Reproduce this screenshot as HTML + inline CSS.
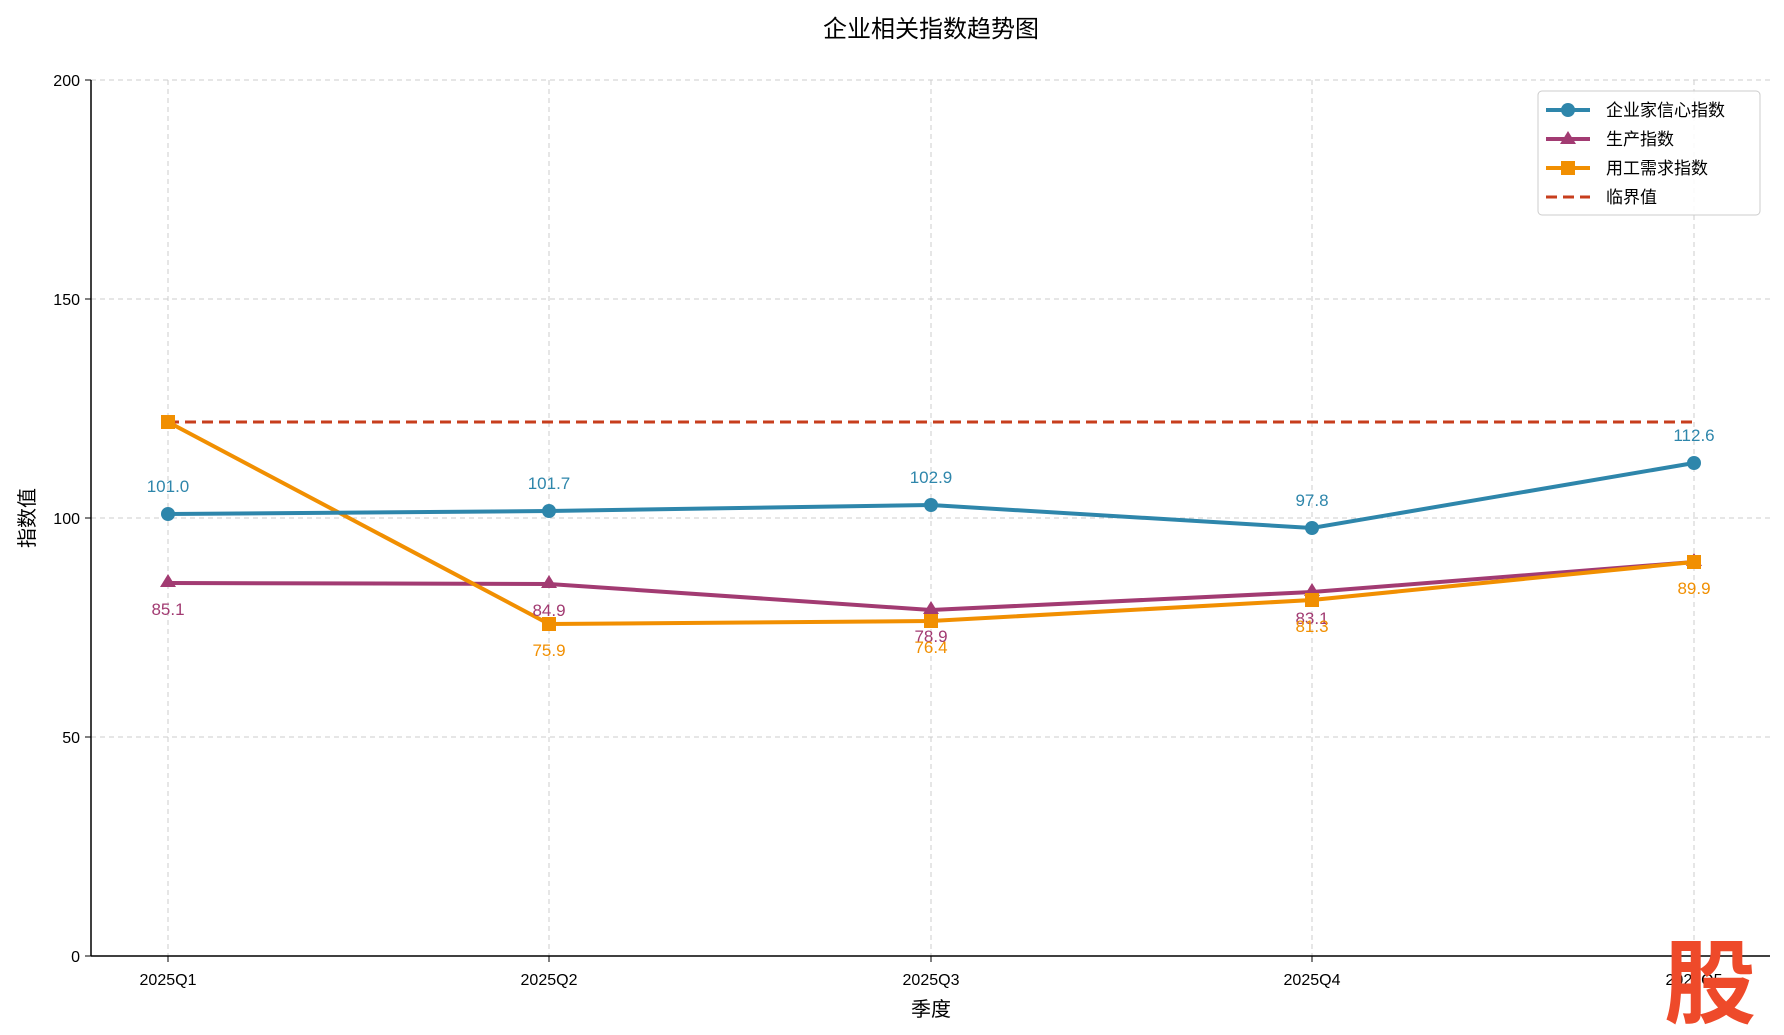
<!DOCTYPE html>
<html><head><meta charset="utf-8"><style>
html,body{margin:0;padding:0;background:#fff}
svg{display:block}
text{font-family:"Liberation Sans","Noto Sans CJK SC",sans-serif}
</style></head><body>
<svg width="1784" height="1035" viewBox="0 0 1784 1035" xmlns="http://www.w3.org/2000/svg">
<rect width="1784" height="1035" fill="#fff"/>
<text x="931" y="37" font-size="24" text-anchor="middle" fill="#000">企业相关指数趋势图</text>
<g stroke="#ccc" stroke-width="1" stroke-dasharray="5,4">
<line x1="91" x2="1770" y1="80" y2="80"/><line x1="91" x2="1770" y1="299" y2="299"/>
<line x1="91" x2="1770" y1="518" y2="518"/><line x1="91" x2="1770" y1="737" y2="737"/>
<line x1="168" x2="168" y1="80" y2="956"/><line x1="549" x2="549" y1="80" y2="956"/>
<line x1="931" x2="931" y1="80" y2="956"/><line x1="1312" x2="1312" y1="80" y2="956"/>
<line x1="1694" x2="1694" y1="80" y2="956"/>
</g>
<g stroke="#000" stroke-width="1.5"><line x1="91" y1="80" x2="91" y2="956"/><line x1="91" y1="956" x2="1770" y2="956"/></g>
<g stroke="#000" stroke-width="1">
<line x1="85" x2="91" y1="80" y2="80"/><line x1="85" x2="91" y1="299" y2="299"/><line x1="85" x2="91" y1="518" y2="518"/><line x1="85" x2="91" y1="737" y2="737"/><line x1="85" x2="91" y1="956" y2="956"/>
<line x1="168" x2="168" y1="956" y2="962"/><line x1="549" x2="549" y1="956" y2="962"/><line x1="931" x2="931" y1="956" y2="962"/><line x1="1312" x2="1312" y1="956" y2="962"/><line x1="1694" x2="1694" y1="956" y2="962"/>
</g>
<g font-size="16" fill="#000" text-anchor="end">
<text x="80" y="86">200</text><text x="80" y="305">150</text><text x="80" y="524">100</text><text x="80" y="743">50</text><text x="80" y="962">0</text>
</g>
<g font-size="16" fill="#000" text-anchor="middle">
<text x="168" y="985">2025Q1</text><text x="549" y="985">2025Q2</text><text x="931" y="985">2025Q3</text><text x="1312" y="985">2025Q4</text><text x="1694" y="985">2025Q5</text>
</g>
<text x="931" y="1016" font-size="20" text-anchor="middle">季度</text>
<text transform="translate(34,518) rotate(-90)" font-size="20" text-anchor="middle">指数值</text>
<line x1="168" y1="422" x2="1694" y2="422" stroke="#c73e1d" stroke-width="3" stroke-dasharray="11,6"/>
<polyline fill="none" stroke="#a23b72" stroke-width="4" points="168,583 549,584 931,610 1312,592 1694,562"/>
<g fill="#a23b72"><path d="M168,574 l8,13 h-16z"/><path d="M549,575 l8,13 h-16z"/><path d="M931,601 l8,13 h-16z"/><path d="M1312,583 l8,13 h-16z"/><path d="M1694,553 l8,13 h-16z"/></g>
<polyline fill="none" stroke="#f18f01" stroke-width="4" points="168,422 549,624 931,621 1312,600 1694,562"/>
<g fill="#f18f01"><rect x="161" y="415" width="14" height="14"/><rect x="542" y="617" width="14" height="14"/><rect x="924" y="614" width="14" height="14"/><rect x="1305" y="593" width="14" height="14"/><rect x="1687" y="555" width="14" height="14"/></g>
<polyline fill="none" stroke="#2e86ab" stroke-width="4" points="168,514 549,511 931,505 1312,528 1694,463"/>
<g fill="#2e86ab"><circle cx="168" cy="514" r="7"/><circle cx="549" cy="511" r="7"/><circle cx="931" cy="505" r="7"/><circle cx="1312" cy="528" r="7"/><circle cx="1694" cy="463" r="7"/></g>
<g font-size="17" text-anchor="middle" font-family="Liberation Mono,monospace">
<g fill="#2e86ab"><text x="168" y="492">101.0</text><text x="549" y="489">101.7</text><text x="931" y="483">102.9</text><text x="1312" y="506">97.8</text><text x="1694" y="441">112.6</text></g>
<g fill="#a23b72"><text x="168" y="615">85.1</text><text x="549" y="616">84.9</text><text x="931" y="642">78.9</text><text x="1312" y="624">83.1</text></g>
<g fill="#f18f01"><text x="549" y="656">75.9</text><text x="931" y="653">76.4</text><text x="1312" y="632">81.3</text><text x="1694" y="594">89.9</text></g>
</g>
<rect x="1538" y="91" width="222" height="124" rx="4" fill="#fff" fill-opacity="0.85" stroke="#ccc"/>
<g font-size="17" fill="#000">
<line x1="1546" x2="1590" y1="110" y2="110" stroke="#2e86ab" stroke-width="4"/><circle cx="1568" cy="110" r="7" fill="#2e86ab"/><text x="1606" y="116">企业家信心指数</text>
<line x1="1546" x2="1590" y1="139" y2="139" stroke="#a23b72" stroke-width="4"/><path d="M1568,131 l8,13 h-16z" fill="#a23b72"/><text x="1606" y="145">生产指数</text>
<line x1="1546" x2="1590" y1="168" y2="168" stroke="#f18f01" stroke-width="4"/><rect x="1561" y="161" width="14" height="14" fill="#f18f01"/><text x="1606" y="174">用工需求指数</text>
<line x1="1546" x2="1590" y1="197" y2="197" stroke="#c73e1d" stroke-width="3" stroke-dasharray="11,6"/><text x="1606" y="203">临界值</text>
</g>
<text x="1710" y="1016" font-size="92" font-weight="bold" fill="#ee4a2a" text-anchor="middle" font-family="Noto Sans CJK SC,sans-serif">股</text>
</svg>
</body></html>
